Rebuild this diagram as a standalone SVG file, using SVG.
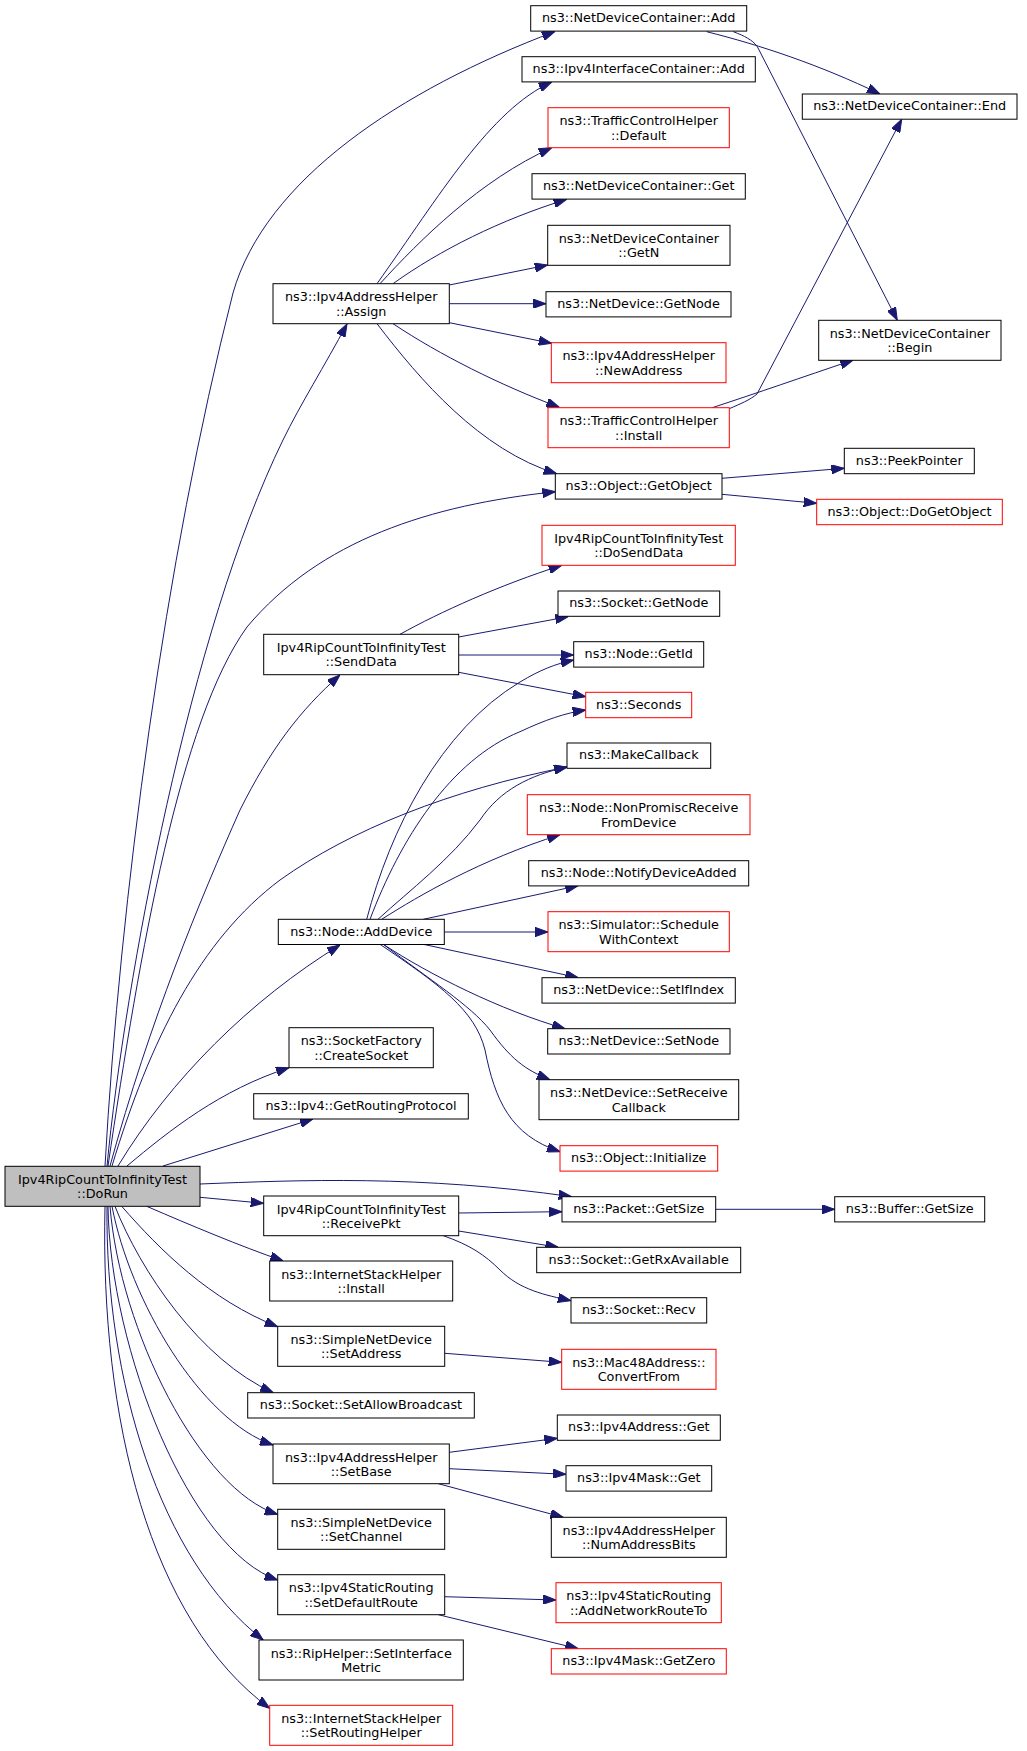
<svg xmlns="http://www.w3.org/2000/svg" width="1027" height="1751" viewBox="0 0 1027 1751">
<style>
.n rect{fill:#fff;stroke:#000;stroke-width:1}
.n.r rect{stroke:#ff0000}
.n.g rect{fill:#bfbfbf}
.n text{font-family:"DejaVu Sans",sans-serif;font-size:12.8px;fill:#000;text-anchor:middle}
#edges path{fill:none;stroke:#191970;stroke-width:1;marker-end:url(#ah)}
</style>
<defs>
<marker id="ah" viewBox="0 0 13 9.4" refX="13" refY="4.7" markerWidth="13" markerHeight="9.4" markerUnits="userSpaceOnUse" orient="auto">
<path d="M0,0 L13,4.7 L0,9.4 z" fill="#191970" stroke="#191970" stroke-width="1"/>
</marker>
</defs>
<rect width="1027" height="1751" fill="#fff"/>
<g id="edges">
<path d="M105,1166 C120,900 165,560 233,293 C265,180 400,90 555,31.5"/>
<path d="M107,1166 C125,980 190,630 283,440 C300,405 325,365 347,324"/>
<path d="M108,1166 C140,950 180,720 247,627 C320,540 430,505 555.3,491.7"/>
<path d="M110,1166 C150,1020 200,900 240,810 C270,750 300,710 340,675"/>
<path d="M112,1166 C150,1040 200,940 280,880 C350,830 450,790 567,767"/>
<path d="M118,1166 C170,1080 250,1000 340,945"/>
<path d="M127,1166 C170,1130 220,1090 289,1067.7"/>
<path d="M163,1166 L313,1119"/>
<path d="M200,1184 C300,1180 420,1175 571.7,1196.7"/>
<path d="M200,1197.3 L263.7,1203.3"/>
<path d="M146.7,1206.3 C190,1225 240,1246 283.3,1261"/>
<path d="M121.7,1206.3 C160,1250 210,1300 277.7,1326.7"/>
<path d="M115,1206.3 C140,1270 200,1360 273.3,1392.7"/>
<path d="M112,1206.3 C130,1300 200,1420 273,1445"/>
<path d="M110,1206.3 C120,1330 200,1490 277.7,1514.3"/>
<path d="M108,1206.3 C110,1350 190,1550 277.7,1580"/>
<path d="M107,1206.3 C105,1380 160,1560 263.3,1640"/>
<path d="M105,1206.3 C100,1420 150,1620 269.7,1708.3"/>
<path d="M377,283.7 C440,195 490,110 551.7,82"/>
<path d="M380,283.7 C420,240 480,180 551.7,147.7"/>
<path d="M393,283.7 C440,250 500,220 566.7,199.3"/>
<path d="M449.3,285 L547.7,265"/>
<path d="M449.3,303.7 L546,303.7"/>
<path d="M449.3,322.7 L551.7,343.3"/>
<path d="M393,323.7 C440,355 500,385 559.3,407.3"/>
<path d="M377,323.7 C420,380 480,450 556.7,473.7"/>
<path d="M706.7,31.7 C760,45 820,65 880,94"/>
<path d="M733.3,31.7 C745,36 752,40 757,46 L897.3,320.3"/>
<path d="M712.3,407.7 C760,392 800,378 853.3,360"/>
<path d="M729.3,408.7 C740,404 750,400 757,394 L901.7,119.3"/>
<path d="M722,478.3 L844.3,468.3"/>
<path d="M722,494.3 L816.7,503.3"/>
<path d="M400,634.3 C440,612 500,585 561.7,565.3"/>
<path d="M458.7,637 L568.3,616.7"/>
<path d="M458.7,655 L573.7,655"/>
<path d="M458.7,672.3 L585.7,696.7"/>
<path d="M366.7,919.3 C390,830 440,730 520,682 C540,670 555,664 573.7,660"/>
<path d="M370,919.3 C400,840 450,760 520,731.7 C545,720 565,713 585.7,710"/>
<path d="M378,919.3 C410,890 450,860 480,820 C500,790 530,775 567,767"/>
<path d="M381.7,919.3 C420,895 480,860 560,834.7"/>
<path d="M423.3,919.3 L578.3,885.7"/>
<path d="M444.3,932 L548,932"/>
<path d="M423.3,944.3 L578.3,977.7"/>
<path d="M383.3,944.3 C430,975 500,1010 565,1028.7"/>
<path d="M383.3,944.3 C430,980 470,1005 490,1030 C510,1058 525,1070 550,1079.7"/>
<path d="M380,944.3 C440,985 475,1010 485,1050 C495,1100 510,1135 560,1151.7"/>
<path d="M458.7,1213 L562,1211.7"/>
<path d="M458.7,1231 L558.3,1247.3"/>
<path d="M443.3,1235.7 C470,1245 485,1255 500,1270 C520,1290 545,1295 571,1300.7"/>
<path d="M715.7,1209.3 L834.7,1209.3"/>
<path d="M444.7,1353.3 L561.7,1362.3"/>
<path d="M449.3,1452.3 L557.3,1438.3"/>
<path d="M449.3,1468.7 L566,1474.3"/>
<path d="M438.3,1483.7 L563.3,1517.3"/>
<path d="M444.7,1596.7 L556,1600"/>
<path d="M438.3,1614.7 L578.3,1648.7"/>
</g>
<g id="n_dorun" class="n g"><rect x="5" y="1166.3" width="195" height="40"/><text x="102.5" y="1183.8">Ipv4RipCountToInfinityTest</text><text x="102.5" y="1198.1">::DoRun</text></g>
<g id="n_ndcadd" class="n"><rect x="530.7" y="5.7" width="216" height="25.4"/><text x="638.7" y="22">ns3::NetDeviceContainer::Add</text></g>
<g id="n_ipv4icadd" class="n"><rect x="522" y="56.7" width="233.3" height="25.2"/><text x="638.7" y="73">ns3::Ipv4InterfaceContainer::Add</text></g>
<g id="n_tchdefault" class="n r"><rect x="548" y="107.7" width="181.3" height="40"/><text x="638.7" y="125.2">ns3::TrafficControlHelper</text><text x="638.7" y="139.5">::Default</text></g>
<g id="n_ndcget" class="n"><rect x="532" y="173.7" width="213.3" height="25.4"/><text x="638.7" y="190">ns3::NetDeviceContainer::Get</text></g>
<g id="n_ndcgetn" class="n"><rect x="547.7" y="225.3" width="182.3" height="40"/><text x="638.8" y="242.8">ns3::NetDeviceContainer</text><text x="638.8" y="257.1">::GetN</text></g>
<g id="n_ndgetnode" class="n"><rect x="546" y="291.7" width="185" height="25.2"/><text x="638.5" y="308">ns3::NetDevice::GetNode</text></g>
<g id="n_newaddr" class="n r"><rect x="551.3" y="342.7" width="174.7" height="40"/><text x="638.7" y="360.2">ns3::Ipv4AddressHelper</text><text x="638.7" y="374.5">::NewAddress</text></g>
<g id="n_tchinstall" class="n r"><rect x="548" y="407.7" width="181.3" height="40"/><text x="638.7" y="425.2">ns3::TrafficControlHelper</text><text x="638.7" y="439.5">::Install</text></g>
<g id="n_ndcend" class="n"><rect x="802.3" y="94" width="214.7" height="25.2"/><text x="909.7" y="110.3">ns3::NetDeviceContainer::End</text></g>
<g id="n_ndcbegin" class="n"><rect x="818.7" y="320.3" width="182.3" height="40"/><text x="909.8" y="337.8">ns3::NetDeviceContainer</text><text x="909.8" y="352.1">::Begin</text></g>
<g id="n_assign" class="n"><rect x="273" y="283.7" width="176.3" height="40"/><text x="361.2" y="301.2">ns3::Ipv4AddressHelper</text><text x="361.2" y="315.5">::Assign</text></g>
<g id="n_getobject" class="n"><rect x="555.3" y="473.7" width="166.7" height="25.4"/><text x="638.7" y="490">ns3::Object::GetObject</text></g>
<g id="n_peek" class="n"><rect x="844.3" y="448.3" width="130" height="25.4"/><text x="909.3" y="464.6">ns3::PeekPointer</text></g>
<g id="n_dogetobject" class="n r"><rect x="816.7" y="499.3" width="185.6" height="25.4"/><text x="909.5" y="515.6">ns3::Object::DoGetObject</text></g>
<g id="n_dosenddata" class="n r"><rect x="542" y="525.3" width="193.3" height="40"/><text x="638.7" y="542.8">Ipv4RipCountToInfinityTest</text><text x="638.7" y="557.1">::DoSendData</text></g>
<g id="n_sockgetnode" class="n"><rect x="558" y="591" width="161.7" height="25.3"/><text x="638.8" y="607.3">ns3::Socket::GetNode</text></g>
<g id="n_getid" class="n"><rect x="573.7" y="641.7" width="130" height="25.4"/><text x="638.7" y="658">ns3::Node::GetId</text></g>
<g id="n_seconds" class="n r"><rect x="585.7" y="692.3" width="106" height="25.4"/><text x="638.7" y="708.6">ns3::Seconds</text></g>
<g id="n_makecb" class="n"><rect x="567" y="743" width="143.7" height="25.3"/><text x="638.8" y="759.3">ns3::MakeCallback</text></g>
<g id="n_nonpromisc" class="n r"><rect x="527.3" y="794.7" width="222.7" height="40"/><text x="638.7" y="812.2">ns3::Node::NonPromiscReceive</text><text x="638.7" y="826.5">FromDevice</text></g>
<g id="n_notify" class="n"><rect x="528.7" y="860.7" width="220" height="25.2"/><text x="638.7" y="877">ns3::Node::NotifyDeviceAdded</text></g>
<g id="n_senddata" class="n"><rect x="263.7" y="634.3" width="195" height="40.4"/><text x="361.2" y="651.8">Ipv4RipCountToInfinityTest</text><text x="361.2" y="666.1">::SendData</text></g>
<g id="n_adddevice" class="n"><rect x="278.3" y="919.3" width="166" height="25.2"/><text x="361.3" y="935.6">ns3::Node::AddDevice</text></g>
<g id="n_schedule" class="n r"><rect x="548" y="911.7" width="181.3" height="40"/><text x="638.7" y="929.2">ns3::Simulator::Schedule</text><text x="638.7" y="943.5">WithContext</text></g>
<g id="n_setifindex" class="n"><rect x="542" y="977.7" width="193.3" height="25.4"/><text x="638.7" y="994">ns3::NetDevice::SetIfIndex</text></g>
<g id="n_setnode" class="n"><rect x="547.7" y="1028.7" width="182.3" height="25.3"/><text x="638.8" y="1045">ns3::NetDevice::SetNode</text></g>
<g id="n_setrecv" class="n"><rect x="539" y="1079.7" width="199.7" height="40"/><text x="638.8" y="1097.2">ns3::NetDevice::SetReceive</text><text x="638.8" y="1111.5">Callback</text></g>
<g id="n_init" class="n r"><rect x="560" y="1145.7" width="157.7" height="25.4"/><text x="638.8" y="1162">ns3::Object::Initialize</text></g>
<g id="n_createsocket" class="n"><rect x="289" y="1027.7" width="144.3" height="40"/><text x="361.2" y="1045.2">ns3::SocketFactory</text><text x="361.2" y="1059.5">::CreateSocket</text></g>
<g id="n_getrouting" class="n"><rect x="253.7" y="1093.7" width="214.6" height="25.3"/><text x="361" y="1110">ns3::Ipv4::GetRoutingProtocol</text></g>
<g id="n_pktsize" class="n"><rect x="562" y="1196.7" width="153.7" height="25.2"/><text x="638.8" y="1213">ns3::Packet::GetSize</text></g>
<g id="n_bufsize" class="n"><rect x="834.7" y="1196.7" width="150" height="25.2"/><text x="909.7" y="1213">ns3::Buffer::GetSize</text></g>
<g id="n_receivepkt" class="n"><rect x="263.7" y="1196" width="195" height="39.7"/><text x="361.2" y="1213.5">Ipv4RipCountToInfinityTest</text><text x="361.2" y="1227.8">::ReceivePkt</text></g>
<g id="n_rxavail" class="n"><rect x="536.7" y="1247.3" width="204" height="25.4"/><text x="638.7" y="1263.6">ns3::Socket::GetRxAvailable</text></g>
<g id="n_recv" class="n"><rect x="571" y="1297.7" width="135.7" height="25.3"/><text x="638.8" y="1314">ns3::Socket::Recv</text></g>
<g id="n_ishinstall" class="n"><rect x="269.7" y="1261" width="183" height="40"/><text x="361.2" y="1278.5">ns3::InternetStackHelper</text><text x="361.2" y="1292.8">::Install</text></g>
<g id="n_setaddress" class="n"><rect x="277.7" y="1326.3" width="167" height="40"/><text x="361.2" y="1343.8">ns3::SimpleNetDevice</text><text x="361.2" y="1358.1">::SetAddress</text></g>
<g id="n_convertfrom" class="n r"><rect x="561.7" y="1349.3" width="154.3" height="40"/><text x="638.8" y="1366.8">ns3::Mac48Address::</text><text x="638.8" y="1381.1">ConvertFrom</text></g>
<g id="n_setallowbc" class="n"><rect x="247.7" y="1392.7" width="226.6" height="25.3"/><text x="361" y="1409">ns3::Socket::SetAllowBroadcast</text></g>
<g id="n_setbase" class="n"><rect x="273" y="1444" width="176.3" height="39.7"/><text x="361.2" y="1461.5">ns3::Ipv4AddressHelper</text><text x="361.2" y="1475.8">::SetBase</text></g>
<g id="n_ipv4addrget" class="n"><rect x="557.3" y="1415" width="163" height="25.3"/><text x="638.8" y="1431.3">ns3::Ipv4Address::Get</text></g>
<g id="n_maskget" class="n"><rect x="566" y="1465.7" width="145.7" height="25.4"/><text x="638.8" y="1482">ns3::Ipv4Mask::Get</text></g>
<g id="n_numbits" class="n"><rect x="551.3" y="1517.3" width="175" height="40"/><text x="638.8" y="1534.8">ns3::Ipv4AddressHelper</text><text x="638.8" y="1549.1">::NumAddressBits</text></g>
<g id="n_setchannel" class="n"><rect x="277.7" y="1509.3" width="167" height="40"/><text x="361.2" y="1526.8">ns3::SimpleNetDevice</text><text x="361.2" y="1541.1">::SetChannel</text></g>
<g id="n_setdefroute" class="n"><rect x="277.7" y="1574.7" width="167" height="40"/><text x="361.2" y="1592.2">ns3::Ipv4StaticRouting</text><text x="361.2" y="1606.5">::SetDefaultRoute</text></g>
<g id="n_addnetroute" class="n r"><rect x="556" y="1582.7" width="165.3" height="40"/><text x="638.7" y="1600.2">ns3::Ipv4StaticRouting</text><text x="638.7" y="1614.5">::AddNetworkRouteTo</text></g>
<g id="n_getzero" class="n r"><rect x="551.3" y="1648.7" width="175" height="25.3"/><text x="638.8" y="1665">ns3::Ipv4Mask::GetZero</text></g>
<g id="n_riphelper" class="n"><rect x="259" y="1640" width="204.3" height="40"/><text x="361.2" y="1657.5">ns3::RipHelper::SetInterface</text><text x="361.2" y="1671.8">Metric</text></g>
<g id="n_setroutinghelper" class="n r"><rect x="269.7" y="1705.3" width="183" height="40"/><text x="361.2" y="1722.8">ns3::InternetStackHelper</text><text x="361.2" y="1737.1">::SetRoutingHelper</text></g>
</svg>
